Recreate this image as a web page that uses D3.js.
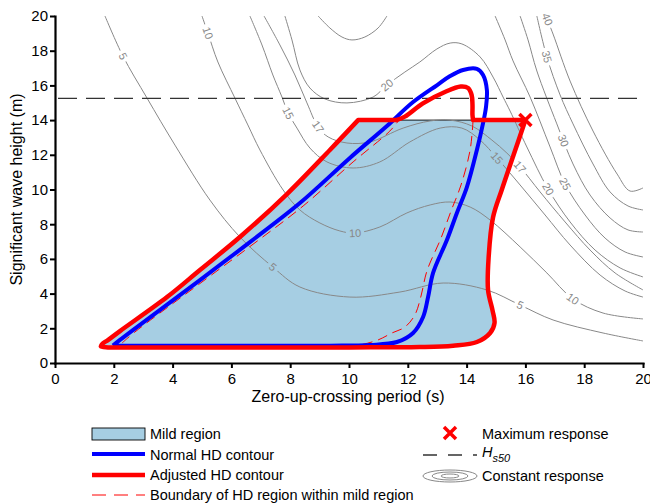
<!DOCTYPE html>
<html>
<head>
<meta charset="utf-8">
<script src="https://cdn.jsdelivr.net/npm/d3@7"></script>
<style>
  body { margin: 0; background: #fff; }
  svg { font-family: "Liberation Sans", Arial, Helvetica, sans-serif; }
</style>
</head>
<body>
<div id="chart"></div>
<script>
// ticks
var xTicks = [0, 2, 4, 6, 8, 10, 12, 14, 16, 18, 20];
var yTicks = [0, 2, 4, 6, 8, 10, 12, 14, 16, 18, 20];

// Hs50 and maximum response point
var hs50 = 15.25;
var hs50Span = [0, 19.8];
var maxResponse = [16, 14];

// constant response contours, [Tz, Hs]
var c5 = [[1.70,20.0],[2.31,17.69],[3.13,15.27],[4.08,12.56],[5.27,9.39],[6.29,7.26],[7.41,5.53],[8.33,4.38],[10.03,3.80],[11.73,4.09],[13.20,4.61],[14.69,4.21],[15.82,3.34],[16.94,2.48],[18.64,1.73],[20.0,1.27]];
var c10 = [[5.0,20.0],[5.20,19.02],[5.54,17.35],[6.12,15.27],[6.56,13.72],[6.97,12.28],[7.76,9.97],[8.33,8.82],[9.01,8.07],[9.69,7.61],[10.20,7.49],[11.05,7.84],[11.97,8.65],[12.76,9.11],[13.44,9.28],[14.12,8.99],[14.80,8.24],[15.82,6.69],[16.73,5.19],[17.62,3.69],[18.64,2.88],[20.0,2.54]];
var c15 = [[6.63,20.0],[7.04,18.33],[7.41,16.60],[7.72,15.33],[7.93,14.41],[8.23,13.54],[8.67,12.39],[9.25,11.59],[10.14,11.24],[11.05,11.59],[12.07,12.74],[13.10,13.54],[13.84,13.54],[14.46,12.85],[15.03,11.82],[15.82,10.26],[16.67,8.53],[17.52,6.80],[18.54,5.07],[19.39,4.15],[20.0,3.80]];
var c17 = [[7.11,20.0],[7.65,18.33],[8.16,16.60],[8.57,14.99],[8.95,13.60],[9.29,13.03],[9.93,12.68],[10.71,12.74],[11.84,13.54],[12.76,13.95],[13.44,14.0],[14.18,13.66],[14.86,12.85],[15.37,12.10],[15.82,11.30],[16.50,9.86],[17.35,8.13],[18.20,6.51],[19.05,5.19],[20.0,4.21]];
var c20 = [[7.82,20.0],[8.06,18.62],[8.33,16.89],[8.67,15.85],[9.18,15.22],[9.93,14.99],[10.82,15.33],[11.29,16.02],[11.90,16.77],[12.41,17.35],[12.99,18.10],[13.44,18.44],[13.84,18.39],[14.46,17.64],[14.90,16.48],[15.24,15.33],[15.48,14.52],[16.05,12.45],[16.77,10.03],[17.52,8.13],[18.37,6.51],[19.22,5.48],[20.0,4.96]];
var cTop = [[8.95,20.0],[9.35,19.31],[9.76,18.79],[10.10,18.62],[10.54,18.79],[10.99,19.31],[11.29,20.0]];
var c25 = [[14.97,20.0],[15.31,18.62],[15.58,17.41],[16.16,15.33],[16.84,12.45],[17.35,10.32],[18.03,8.53],[18.71,7.20],[19.39,6.40],[20.0,6.11]];
var c30 = [[15.82,20.0],[16.09,18.62],[16.39,16.83],[17.07,13.78],[17.62,11.47],[18.20,9.68],[18.88,8.36],[19.49,7.67],[20.0,7.55]];
var c35 = [[16.39,20.0],[16.73,17.64],[17.18,15.45],[17.62,13.78],[18.30,11.47],[18.88,9.86],[19.49,9.05],[20.0,8.82]];
var c40 = [[16.70,20.0],[16.94,18.96],[17.52,16.25],[18.30,13.37],[19.12,10.89],[19.56,9.91],[20.0,10.09]];
var contourList = [c5, c10, c15, c17, c20, cTop, c25, c30, c35, c40];

// contour labels: text, contour index, [Tz, Hs]
var contourLabels = [
  ['5', 0, [2.31,17.69]], ['5', 0, [7.41,5.53]], ['5', 0, [15.82,3.34]],
  ['10', 1, [5.20,19.02]], ['10', 1, [10.20,7.49]], ['10', 1, [17.62,3.69]],
  ['15', 2, [7.93,14.41]], ['15', 2, [15.03,11.82]],
  ['17', 3, [8.95,13.60]], ['17', 3, [15.82,11.30]],
  ['20', 4, [11.29,16.02]], ['20', 4, [16.77,10.03]],
  ['25', 6, [17.35,10.32]], ['30', 7, [17.24,12.80]],
  ['35', 8, [16.73,17.64]], ['40', 9, [16.77,19.83]]
];

// adjusted HD contour (red), in pieces: smooth / straight / smooth bump / straight
var redOuter = [[16.0,14.0],[15.6,12.0],[15.2,10.0],[14.9,8.4],[14.75,6.1],[14.73,4.2],[14.88,3.05],[14.95,2.31],[14.8,1.73],[14.35,1.21],[13.54,1.0],[12.4,0.92],[10.0,0.9],[6.0,0.9],[2.3,0.9],[1.8,0.9],[1.56,0.96],[1.62,1.12],[1.8,1.32],[2.21,1.84],[3.81,3.80],[4.93,5.36],[6.29,7.26],[7.89,9.74],[9.35,12.28],[10.31,14.0]];
var redFlatLeft = [[10.31,14.0],[11.6,14.0]];
var redBump = [[11.6,14.0],[11.9,14.2],[12.5,14.95],[13.3,15.65],[13.8,15.93],[14.05,15.85],[14.17,15.45],[14.2,14.9],[14.2,14.3],[14.22,14.0]];
var redFlatRight = [[14.22,14.0],[16.0,14.0]];

// normal HD contour (blue)
var blueContour = [[1.97,1.0],[2.21,1.33],[2.65,1.90],[4.93,4.78],[6.63,6.97],[8.33,9.22],[10.03,11.82],[11.29,13.66],[12.18,15.04],[13.0,16.02],[13.44,16.54],[13.88,16.89],[14.35,16.95],[14.56,16.60],[14.69,15.73],[14.66,14.76],[14.56,13.83],[14.35,12.28],[14.01,10.14],[13.67,8.65],[13.33,7.09],[12.86,5.19],[12.69,3.80],[12.52,2.65],[12.18,1.73],[11.63,1.21],[10.71,1.04],[9.35,1.0],[4.93,1.0],[1.97,1.0]];

// boundary of HD region within mild region (red dashed)
var boundaryLeft = [[2.28,1.15],[2.72,1.79],[5.0,4.67],[6.70,6.80],[8.44,9.05],[10.14,11.59],[11.39,13.37],[11.70,14.0]];
var boundaryRight = [[14.22,14.0],[14.12,12.28],[13.81,10.26],[13.47,8.76],[13.13,7.20],[12.65,5.30],[12.45,3.86],[12.24,2.77],[11.90,2.07],[11.46,1.73],[10.99,1.33],[10.37,1.04],[9.86,0.92]];

var W = 650, H = 504;
var svg = d3.select('#chart').append('svg').attr('width', W).attr('height', H);

var x = d3.scaleLinear().domain([0, 20]).range([55, 643]);
var y = d3.scaleLinear().domain([0, 20]).range([363, 16]);

var lineFn = function(curve) {
  return d3.line().x(function(d) { return x(d[0]); }).y(function(d) { return y(d[1]); }).curve(curve);
};
var smooth = lineFn(d3.curveCatmullRom.alpha(0.5));
var straight = lineFn(d3.curveLinear);
function join(parts) {
  return parts.map(function(p, i) { return i === 0 ? p : p.replace(/^M/, 'L'); }).join('');
}

// mild region
var defs = svg.append('defs');
svg.append('path')
  .attr('d', smooth(redOuter) + 'Z')
  .attr('fill', '#a6cee3')
  .attr('stroke', '#000')
  .attr('stroke-width', 0.9);

// contours
var mask = defs.append('mask').attr('id', 'lblmask').attr('maskUnits', 'userSpaceOnUse')
  .attr('x', 0).attr('y', 0).attr('width', W).attr('height', H);
mask.append('rect').attr('width', W).attr('height', H).attr('fill', '#fff');

var cg = svg.append('g').attr('mask', 'url(#lblmask)');
var paths = cg.selectAll('path.contour').data(contourList).enter().append('path')
  .attr('class', 'contour')
  .attr('d', function(d) { return smooth(d); })
  .attr('fill', 'none')
  .attr('stroke', '#888')
  .attr('stroke-width', 1);

var lg = svg.append('g');
contourLabels.forEach(function(lab) {
  var node = paths.nodes()[lab[1]];
  var px = x(lab[2][0]), py = y(lab[2][1]);
  var len = node.getTotalLength(), best = 0, bd = Infinity;
  for (var l = 0; l <= len; l += 0.5) {
    var p = node.getPointAtLength(l);
    var dd = (p.x - px) * (p.x - px) + (p.y - py) * (p.y - py);
    if (dd < bd) { bd = dd; best = l; }
  }
  var pc = node.getPointAtLength(best);
  var p0 = node.getPointAtLength(Math.max(0, best - 4));
  var p1 = node.getPointAtLength(Math.min(len, best + 4));
  var ang = Math.atan2(p1.y - p0.y, p1.x - p0.x) * 180 / Math.PI;
  if (ang > 90) ang -= 180;
  if (ang < -90) ang += 180;
  var tf = 'translate(' + pc.x + ',' + pc.y + ') rotate(' + ang + ')';
  var t = lg.append('text')
    .attr('transform', tf)
    .attr('text-anchor', 'middle')
    .attr('dy', '0.35em')
    .attr('font-size', 11)
    .attr('fill', '#888')
    .text(lab[0]);
  var w = t.node().getComputedTextLength() + 6;
  mask.append('rect').attr('transform', tf)
    .attr('x', -w / 2).attr('y', -5.5).attr('width', w).attr('height', 11)
    .attr('fill', '#000');
});

// Hs50 line
svg.append('line')
  .attr('x1', x(hs50Span[0])).attr('x2', x(hs50Span[1]))
  .attr('y1', y(hs50)).attr('y2', y(hs50))
  .attr('stroke', '#333').attr('stroke-width', 1.3)
  .attr('stroke-dasharray', '19,9').attr('stroke-dashoffset', -3);

// boundary of HD region (dashed red)
[boundaryLeft, boundaryRight].forEach(function(b) {
  svg.append('path').attr('d', smooth(b))
    .attr('fill', 'none').attr('stroke', '#f00').attr('stroke-width', 1)
    .attr('stroke-dasharray', '10,6');
});

// normal HD contour
svg.append('path').attr('d', smooth(blueContour))
  .attr('fill', 'none').attr('stroke', '#00f').attr('stroke-width', 4)
  .attr('stroke-linejoin', 'round');

// adjusted HD contour
svg.append('path')
  .attr('d', join([smooth(redOuter), straight(redFlatLeft), smooth(redBump), straight(redFlatRight)]))
  .attr('fill', 'none').attr('stroke', '#f00').attr('stroke-width', 4.5)
  .attr('stroke-linejoin', 'round');

// maximum response marker
function cross(g, cx, cy) {
  g.append('path')
    .attr('d', 'M' + (cx - 6) + ',' + (cy - 6) + 'L' + (cx + 6) + ',' + (cy + 6) + 'M' + (cx - 6) + ',' + (cy + 6) + 'L' + (cx + 6) + ',' + (cy - 6))
    .attr('stroke', '#f00').attr('stroke-width', 3.5).attr('fill', 'none');
}
cross(svg, x(maxResponse[0]), y(maxResponse[1]));

// axes
var xAxis = svg.append('g').attr('transform', 'translate(0,363)')
  .call(d3.axisBottom(x).tickValues(xTicks).tickSize(5).tickPadding(5).tickSizeOuter(0));
var yAxis = svg.append('g').attr('transform', 'translate(55,0)')
  .call(d3.axisLeft(y).tickValues(yTicks).tickSize(5).tickPadding(2).tickSizeOuter(0));
[xAxis, yAxis].forEach(function(a) {
  a.select('.domain').attr('stroke-width', 2.2).attr('stroke-linecap', 'square');
  a.selectAll('.tick line').attr('stroke-width', 2);
  a.selectAll('.tick text').attr('font-size', 15).attr('fill', '#000')
    .attr('font-family', '"Liberation Sans", Arial, Helvetica, sans-serif');
});

svg.append('text').attr('x', 348).attr('y', 402).attr('text-anchor', 'middle')
  .attr('font-size', 16).text('Zero-up-crossing period (s)');
svg.append('text').attr('transform', 'translate(22,189.5) rotate(-90)').attr('text-anchor', 'middle')
  .attr('font-size', 16).text('Significant wave height (m)');

// legend
var leg = svg.append('g').attr('font-size', 14.5);
leg.append('rect').attr('x', 92).attr('y', 428).attr('width', 53).attr('height', 12)
  .attr('fill', '#a6cee3').attr('stroke', '#000').attr('stroke-width', 0.9);
leg.append('line').attr('x1', 92).attr('x2', 145).attr('y1', 454).attr('y2', 454)
  .attr('stroke', '#00f').attr('stroke-width', 4);
leg.append('line').attr('x1', 92).attr('x2', 145).attr('y1', 475).attr('y2', 475)
  .attr('stroke', '#f00').attr('stroke-width', 4.5);
leg.append('line').attr('x1', 92).attr('x2', 145).attr('y1', 495).attr('y2', 495)
  .attr('stroke', '#f00').attr('stroke-width', 1).attr('stroke-dasharray', '14,8');
leg.append('text').attr('x', 150).attr('y', 439).text('Mild region');
leg.append('text').attr('x', 150).attr('y', 459.5).text('Normal HD contour');
leg.append('text').attr('x', 150).attr('y', 480).text('Adjusted HD contour');
leg.append('text').attr('x', 150).attr('y', 500).text('Boundary of HD region within mild region');

cross(leg, 450, 433);
leg.append('text').attr('x', 482).attr('y', 438.5).text('Maximum response');
leg.append('line').attr('x1', 423).attr('x2', 477).attr('y1', 455).attr('y2', 455)
  .attr('stroke', '#333').attr('stroke-width', 1.3).attr('stroke-dasharray', '14,11');
var hsText = leg.append('text').attr('x', 482).attr('y', 457).attr('font-style', 'italic');
hsText.append('tspan').text('H');
hsText.append('tspan').attr('dy', 5).attr('font-size', 11).text('s50');
[[27, 6], [18, 4], [9, 2]].forEach(function(e) {
  leg.append('ellipse').attr('cx', 450).attr('cy', 476).attr('rx', e[0]).attr('ry', e[1])
    .attr('fill', 'none').attr('stroke', '#888').attr('stroke-width', 1);
});
leg.append('text').attr('x', 482).attr('y', 481).text('Constant response');
</script>
</body>
</html>
